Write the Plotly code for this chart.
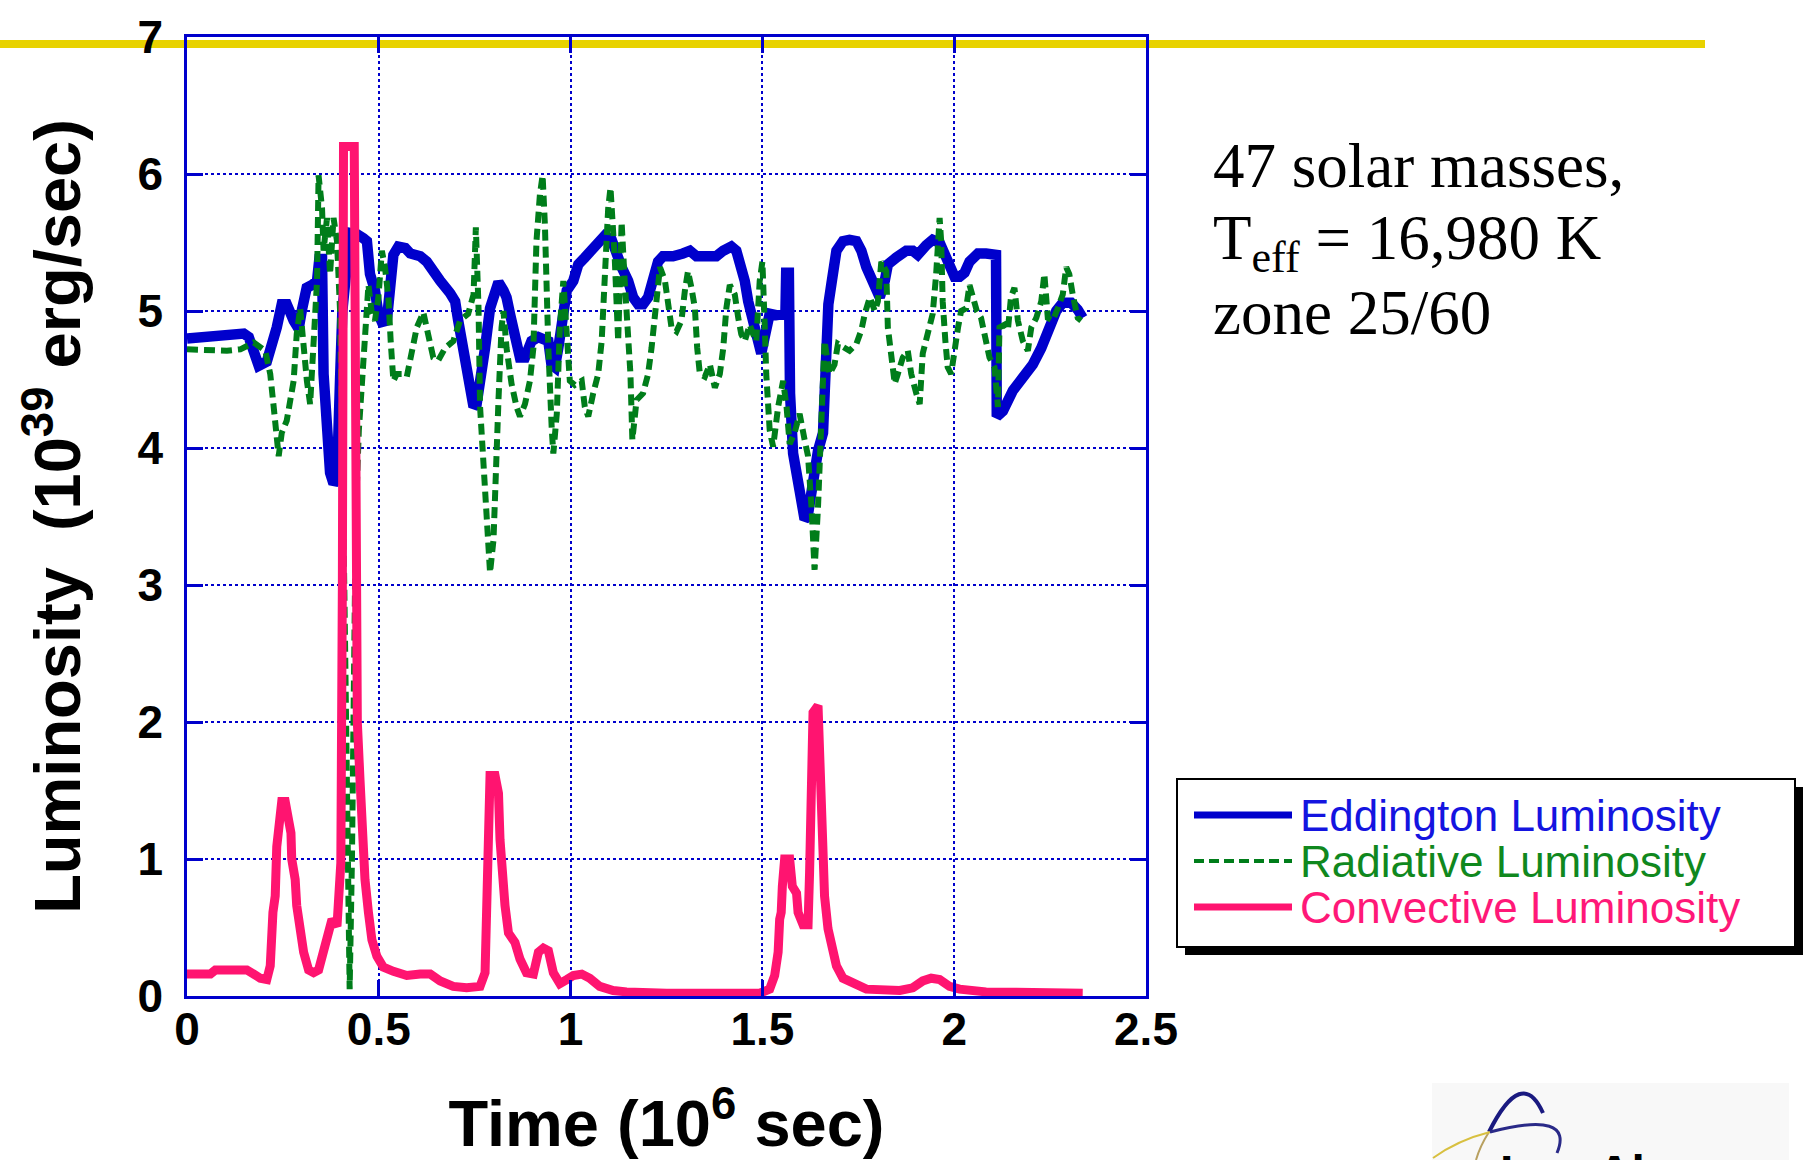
import plotly.graph_objects as go

# ---------------- data ----------------
edd_t = [0, 0.06, 0.095, 0.148, 0.161, 0.174, 0.187, 0.208, 0.221, 0.234, 0.247, 0.26, 0.278,
         0.291, 0.299, 0.312, 0.326, 0.339, 0.345, 0.352, 0.356, 0.365, 0.373, 0.382, 0.391,
         0.399, 0.405, 0.425, 0.443, 0.46, 0.469, 0.477, 0.49, 0.499, 0.508, 0.521, 0.53, 0.538,
         0.551, 0.569, 0.582, 0.608, 0.625, 0.642, 0.66, 0.686, 0.699, 0.707, 0.72, 0.729, 0.738,
         0.747, 0.755, 0.764, 0.777, 0.79, 0.803, 0.812, 0.825, 0.833, 0.842, 0.855, 0.868, 0.881,
         0.898, 0.916, 0.933, 0.942, 0.95, 0.959, 0.968, 0.981, 0.99, 1.007, 1.02, 1.037, 1.059,
         1.076, 1.089, 1.107, 1.12, 1.133, 1.15, 1.163, 1.176, 1.189, 1.202, 1.215, 1.228, 1.241,
         1.267, 1.293, 1.311, 1.328, 1.354, 1.38, 1.398, 1.419, 1.432, 1.441, 1.454, 1.463, 1.476,
         1.489, 1.497, 1.506, 1.519, 1.536, 1.549, 1.56, 1.562, 1.569, 1.572, 1.58, 1.597, 1.61,
         1.618, 1.627, 1.636, 1.645, 1.658, 1.664, 1.672, 1.68, 1.693, 1.71, 1.727, 1.745, 1.758,
         1.771, 1.784, 1.797, 1.806, 1.819, 1.827, 1.849, 1.875, 1.892, 1.905, 1.927, 1.944,
         1.962, 1.975, 1.988, 2.001, 2.014, 2.027, 2.04, 2.062, 2.083, 2.109, 2.111, 2.127,
         2.153, 2.179, 2.205, 2.227, 2.248, 2.266, 2.283, 2.305, 2.322, 2.335]
edd_L = [4.80, 4.81, 4.835, 4.835, 4.81, 4.69, 4.60, 4.63, 4.73, 4.88, 5.05, 5.05, 4.93,
         4.87, 5.0, 5.17, 5.19, 5.22, 5.38, 5.38, 4.54, 4.06, 3.82, 3.74, 3.77,
         4.5, 5.0, 5.57, 5.56, 5.53, 5.51, 5.27, 5.15, 4.98, 4.92, 4.93, 5.15, 5.41,
         5.47, 5.46, 5.42, 5.40, 5.36, 5.28, 5.22, 5.13, 5.07, 4.93, 4.73, 4.57, 4.40,
         4.30, 4.32, 4.47, 4.73, 5.02, 5.17, 5.21, 5.15, 5.10, 4.98, 4.81, 4.66, 4.66,
         4.78, 4.81, 4.80, 4.78, 4.61, 4.59, 4.73, 4.95, 5.15, 5.22, 5.34, 5.39, 5.46,
         5.51, 5.55, 5.52, 5.41, 5.32, 5.22, 5.10, 5.05, 5.05, 5.10, 5.24, 5.36, 5.40,
         5.40, 5.42, 5.44, 5.40, 5.40, 5.40, 5.44, 5.47, 5.44, 5.36, 5.22, 5.07, 4.90,
         4.73, 4.69, 4.81, 4.98, 4.97, 4.98, 4.98, 5.28, 5.28, 4.40, 3.96, 3.69, 3.48,
         3.50, 3.69, 3.91, 3.98, 4.11, 4.6, 5.05, 5.2, 5.44, 5.51, 5.52, 5.51, 5.44,
         5.32, 5.22, 5.12, 5.10, 5.22, 5.34, 5.39, 5.44, 5.44, 5.41, 5.48, 5.52,
         5.50, 5.41, 5.29, 5.25, 5.25, 5.28, 5.36, 5.42, 5.42, 5.41, 4.23, 4.27,
         4.42, 4.52, 4.61, 4.73, 4.88, 5.0, 5.06, 5.06, 5.01, 4.95]

rad_t = [0, 0.052, 0.104, 0.139, 0.174, 0.204, 0.217, 0.226, 0.239, 0.247, 0.26, 0.278, 0.286,
         0.295, 0.304, 0.3125, 0.321, 0.33, 0.339, 0.343, 0.352, 0.356, 0.365, 0.373, 0.382,
         0.391, 0.399, 0.41, 0.418, 0.424, 0.43, 0.434, 0.44, 0.448, 0.464, 0.473, 0.482, 0.49,
         0.499, 0.508, 0.516, 0.525, 0.531, 0.538, 0.547, 0.56, 0.573, 0.586, 0.599, 0.616,
         0.629, 0.642, 0.655, 0.673, 0.694, 0.712, 0.733, 0.747, 0.753, 0.76, 0.764, 0.773,
         0.781, 0.79, 0.799, 0.807, 0.812, 0.82, 0.825, 0.833, 0.846, 0.859, 0.868, 0.881,
         0.894, 0.903, 0.911, 0.92, 0.927, 0.933, 0.938, 0.942, 0.951, 0.955, 0.964, 0.972,
         0.981, 0.99, 0.998, 1.011, 1.029, 1.037, 1.046, 1.059, 1.072, 1.081, 1.089, 1.098,
         1.104, 1.109, 1.115, 1.124, 1.133, 1.141, 1.15, 1.156, 1.161, 1.172, 1.189, 1.202,
         1.211, 1.22, 1.233, 1.246, 1.254, 1.263, 1.276, 1.289, 1.298, 1.306, 1.315, 1.324,
         1.33, 1.337, 1.35, 1.363, 1.376, 1.389, 1.398, 1.406, 1.415, 1.428, 1.437, 1.445,
         1.454, 1.467, 1.476, 1.484, 1.493, 1.5, 1.506, 1.51, 1.519, 1.528, 1.541, 1.554,
         1.563, 1.571, 1.584, 1.597, 1.61, 1.619, 1.628, 1.636, 1.645, 1.654, 1.662, 1.675,
         1.688, 1.697, 1.714, 1.727, 1.745, 1.758, 1.767, 1.78, 1.793, 1.801, 1.81, 1.823,
         1.827, 1.836, 1.845, 1.853, 1.866, 1.879, 1.888, 1.901, 1.91, 1.918, 1.931, 1.944,
         1.953, 1.962, 1.966, 1.97, 1.977, 1.983, 1.992, 2.001, 2.01, 2.018, 2.031, 2.04,
         2.049, 2.059, 2.07, 2.082, 2.092, 2.105, 2.114, 2.118, 2.131, 2.14, 2.148, 2.157,
         2.166, 2.179, 2.192, 2.201, 2.214, 2.227, 2.235, 2.244, 2.257, 2.27, 2.283, 2.292,
         2.3, 2.309, 2.322, 2.331]
rad_L = [4.72, 4.71, 4.71, 4.72, 4.77, 4.71, 4.54, 4.30, 3.94, 4.11, 4.20, 4.49, 4.83,
         5.02, 4.69, 4.49, 4.32, 4.73, 5.22, 5.99, 5.75, 5.44, 5.68, 5.27, 5.68,
         5.51, 5.0, 3.0, 1.0, 0.05, 1.0, 2.0, 3.5, 4.13, 4.73, 5.19, 4.98, 4.93,
         5.10, 5.44, 5.32, 5.10, 4.78, 4.49, 4.54, 4.54, 4.52, 4.73, 4.88, 4.99,
         4.81, 4.66, 4.64, 4.73, 4.78, 4.93, 4.98, 5.12, 5.61, 5.02, 4.30, 3.82,
         3.57, 3.09, 3.33, 4.06, 4.35, 4.88, 5.0, 4.73, 4.47, 4.30, 4.23, 4.32,
         4.49, 4.73, 5.51, 5.85, 5.99, 5.63, 5.02, 4.73, 4.13, 3.96, 4.25, 4.88,
         5.22, 4.78, 4.49, 4.46, 4.49, 4.30, 4.23, 4.40, 4.54, 4.78, 5.27, 5.75,
         5.90, 5.70, 5.39, 4.78, 5.65, 5.22, 4.78, 4.54, 4.06, 4.35, 4.40, 4.54,
         4.73, 5.02, 5.32, 5.22, 5.07, 4.88, 4.85, 4.93, 5.15, 5.29, 5.17, 5.02,
         4.73, 4.54, 4.52, 4.61, 4.44, 4.54, 4.73, 5.02, 5.19, 5.12, 4.95, 4.83,
         4.78, 4.90, 4.83, 4.78, 5.22, 5.36, 4.90, 4.54, 4.13, 4.01, 4.30, 4.49,
         4.30, 4.03, 4.11, 4.25, 4.06, 3.94, 3.57, 3.11, 3.57, 4.30, 4.78, 4.54,
         4.61, 4.76, 4.73, 4.71, 4.76, 4.86, 4.98, 5.10, 5.0, 5.07, 5.36, 5.29,
         4.88, 4.69, 4.47, 4.54, 4.66, 4.71, 4.54, 4.40, 4.32, 4.69, 4.86, 4.98,
         5.27, 5.68, 5.51, 5.07, 4.78, 4.59, 4.54, 4.73, 4.88, 5.0, 5.02, 5.19,
         5.10, 5.0, 4.95, 4.78, 4.66, 4.59, 4.30, 4.88, 4.90, 4.86, 5.10, 5.17,
         4.93, 4.78, 4.71, 4.88, 4.95, 5.07, 5.27, 4.95, 4.93, 5.02, 5.12, 5.32,
         5.27, 5.12, 4.95, 4.93]

conv_t = [0, 0.061, 0.074, 0.156, 0.174, 0.191, 0.208, 0.217, 0.224, 0.23, 0.234, 0.241, 0.247,
          0.256, 0.265, 0.271, 0.273, 0.282, 0.286, 0.295, 0.304, 0.317, 0.33, 0.343, 0.356,
          0.369, 0.378, 0.391, 0.401, 0.405, 0.408, 0.436, 0.438, 0.441, 0.444, 0.451, 0.456,
          0.464, 0.473, 0.482, 0.495, 0.512, 0.538, 0.573, 0.608, 0.634, 0.66, 0.694, 0.729,
          0.764, 0.777, 0.781, 0.786, 0.79, 0.803, 0.812, 0.816, 0.82, 0.829, 0.838, 0.855,
          0.868, 0.885, 0.903, 0.916, 0.929, 0.942, 0.955, 0.972, 0.99, 1.007, 1.029, 1.05,
          1.076, 1.111, 1.146, 1.25, 1.493, 1.519, 1.532, 1.541, 1.545, 1.549, 1.552, 1.558,
          1.571, 1.578, 1.589, 1.593, 1.606, 1.619, 1.623, 1.628, 1.632, 1.645, 1.651, 1.654,
          1.662, 1.671, 1.68, 1.693, 1.71, 1.736, 1.771, 1.858, 1.892, 1.918, 1.94, 1.962,
          1.988, 2.014, 2.083, 2.335]
conv_L = [0.16, 0.16, 0.19, 0.19, 0.16, 0.13, 0.12, 0.22, 0.61, 0.73, 1.09, 1.34, 1.42,
          1.42, 1.29, 1.19, 1.0, 0.85, 0.66, 0.49, 0.32, 0.19, 0.17, 0.19, 0.34,
          0.46, 0.56, 0.51, 0.97, 3.0, 6.2, 6.2, 4.0, 3.0, 2.0, 1.58, 1.14,
          0.85, 0.61, 0.41, 0.29, 0.21, 0.18, 0.15, 0.16, 0.16, 0.11, 0.07, 0.06,
          0.07, 0.17, 0.61, 1.17, 1.61, 1.61, 1.48, 1.14, 0.90, 0.66, 0.46, 0.39,
          0.27, 0.17, 0.16, 0.32, 0.35, 0.33, 0.17, 0.09, 0.12, 0.15, 0.16, 0.13,
          0.07, 0.04, 0.03, 0.02, 0.02, 0.05, 0.15, 0.32, 0.56, 0.61, 0.80, 1.0,
          1.0, 0.80, 0.75, 0.61, 0.52, 0.52, 0.90, 1.70, 2.07, 2.12, 1.51, 1.09,
          0.73, 0.49, 0.34, 0.22, 0.13, 0.09, 0.05, 0.04, 0.06, 0.11, 0.13, 0.12,
          0.07, 0.05, 0.03, 0.02]

series_names = ["Eddington Luminosity", "Radiative Luminosity", "Convective Luminosity"]
x_tick_vals = [0, 0.5, 1, 1.5, 2, 2.5]
x_tick_text = ["0", "0.5", "1", "1.5", "2", "2.5"]
y_tick_vals = [0, 1, 2, 3, 4, 5, 6, 7]
y_tick_text = ["0", "1", "2", "3", "4", "5", "6", "7"]
info_lines = ["47 solar masses,", "T<sub>eff</sub> = 16,980 K", "zone 25/60"]

# ---------------- style ----------------
BLUE = "#0000CC"
GREEN = "#007D1A"
PINK = "#FF1470"
AXBLUE = "#0000CC"
SANS = "Liberation Sans, Arial, Helvetica, sans-serif"
SERIF = "Liberation Serif, Times New Roman, serif"

# figure geometry (px)
W, H = 1806, 1160
L_M, R_M, T_M, B_M = 187, 660, 37, 164
PW = W - L_M - R_M
PH = H - T_M - B_M


def px(x):
    return (x - L_M) / PW


def py(y):
    return (H - B_M - y) / PH


fig = go.Figure()
fig.add_trace(go.Scatter(x=edd_t, y=edd_L, mode="lines", name=series_names[0],
                         line=dict(color=BLUE, width=10.5), showlegend=False))
fig.add_trace(go.Scatter(x=rad_t, y=rad_L, mode="lines", name=series_names[1],
                         line=dict(color=GREEN, width=6, dash="11px,6px"), showlegend=False))
fig.add_trace(go.Scatter(x=conv_t, y=conv_L, mode="lines", name=series_names[2],
                         line=dict(color=PINK, width=9), showlegend=False))

axis_common = dict(
    showline=True, linecolor=AXBLUE, linewidth=2.5, mirror="allticks",
    ticks="inside", ticklen=16, tickwidth=2.5, tickcolor=AXBLUE,
    showgrid=True, gridcolor=AXBLUE, gridwidth=2, griddash="dot",
    zeroline=False, automargin=False,
    tickfont=dict(family=SANS, size=46, color="black", weight="bold"),
)

fig.update_xaxes(range=[0, 2.5], tickmode="array", tickvals=x_tick_vals, ticktext=x_tick_text,
                 ticklabelstandoff=-9,
                 title=dict(text="Time (10<sup>6</sup> sec)", standoff=50,
                            font=dict(family=SANS, size=65, color="black", weight="bold")),
                 **axis_common)
fig.update_yaxes(range=[0, 7], tickmode="array", tickvals=y_tick_vals, ticktext=y_tick_text,
                 ticklabelstandoff=12,
                 title=dict(text="Luminosity\u00a0\u00a0(10<sup>39</sup> erg/sec)", standoff=36,
                            font=dict(family=SANS, size=65, color="black", weight="bold")),
                 **axis_common)

shapes = []
# yellow slide rule
shapes.append(dict(type="line", xref="paper", yref="paper", x0=px(0), x1=px(1705),
                   y0=py(44), y1=py(44), line=dict(color="#E8D200", width=8), layer="below"))
# legend shadow + box
shapes.append(dict(type="rect", xref="paper", yref="paper", x0=px(1185), x1=px(1803),
                   y0=py(955), y1=py(787), fillcolor="black", line=dict(width=0)))
shapes.append(dict(type="rect", xref="paper", yref="paper", x0=px(1177), x1=px(1795),
                   y0=py(947), y1=py(779), fillcolor="white", line=dict(color="black", width=2)))
leg_rows = [815, 861, 907]
leg_styles = [dict(color=BLUE, width=7), dict(color=GREEN, width=4, dash="10px,5px"),
              dict(color=PINK, width=7)]
for yy, st in zip(leg_rows, leg_styles):
    shapes.append(dict(type="line", xref="paper", yref="paper", x0=px(1194), x1=px(1292),
                       y0=py(yy), y1=py(yy), line=st))

# logo (bottom right)
shapes.append(dict(type="rect", xref="paper", yref="paper", x0=px(1432), x1=px(1789),
                   y0=py(1160), y1=py(1083), fillcolor="#F8F8F8", line=dict(width=0)))


def path(points):
    (x0, y0), (cx, cy), (x1, y1) = points
    return "M %f %f Q %f %f %f %f" % (px(x0), py(y0), px(cx), py(cy), px(x1), py(y1))


shapes.append(dict(type="path", xref="paper", yref="paper",
                   path=path([(1489, 1132), (1522, 1066), (1543, 1113)]),
                   line=dict(color="#1A1A80", width=4)))
shapes.append(dict(type="path", xref="paper", yref="paper",
                   path=path([(1476, 1160), (1480, 1146), (1489, 1132)]),
                   line=dict(color="#B8A060", width=2)))
shapes.append(dict(type="path", xref="paper", yref="paper",
                   path=path([(1433, 1158), (1458, 1140), (1490, 1132)]),
                   line=dict(color="#D8C040", width=2)))
shapes.append(dict(type="path", xref="paper", yref="paper",
                   path=path([(1490, 1132), (1575, 1110), (1557, 1153)]),
                   line=dict(color="#2A2A88", width=3)))

annotations = []
leg_colors = ["#1414E0", "#10881E", "#FF1878"]
for yy, name, col in zip(leg_rows, series_names, leg_colors):
    annotations.append(dict(xref="paper", yref="paper", x=px(1298), y=py(yy), xanchor="left",
                            yanchor="middle", text=name, showarrow=False,
                            font=dict(family=SANS, size=44, color=col)))
for yy, txt in zip([166, 243, 313], info_lines):
    annotations.append(dict(xref="paper", yref="paper", x=px(1211), y=py(yy), xanchor="left",
                            yanchor="middle", text=txt, showarrow=False,
                            font=dict(family=SERIF, size=63, color="black")))
annotations.append(dict(xref="paper", yref="paper", x=px(1498), y=py(1172), xanchor="left",
                        yanchor="middle", text="Los Alamos", showarrow=False,
                        font=dict(family=SANS, size=48, color="black", weight="bold")))

fig.update_layout(
    width=W, height=H, autosize=False,
    margin=dict(l=L_M, r=R_M, t=T_M, b=B_M, pad=0),
    paper_bgcolor="white", plot_bgcolor="rgba(0,0,0,0)",
    showlegend=False, shapes=shapes, annotations=annotations,
)

fig.write_html("out.html", config={"displayModeBar": False},
               post_script="document.body.style.margin='0';document.body.style.overflow='hidden';")
